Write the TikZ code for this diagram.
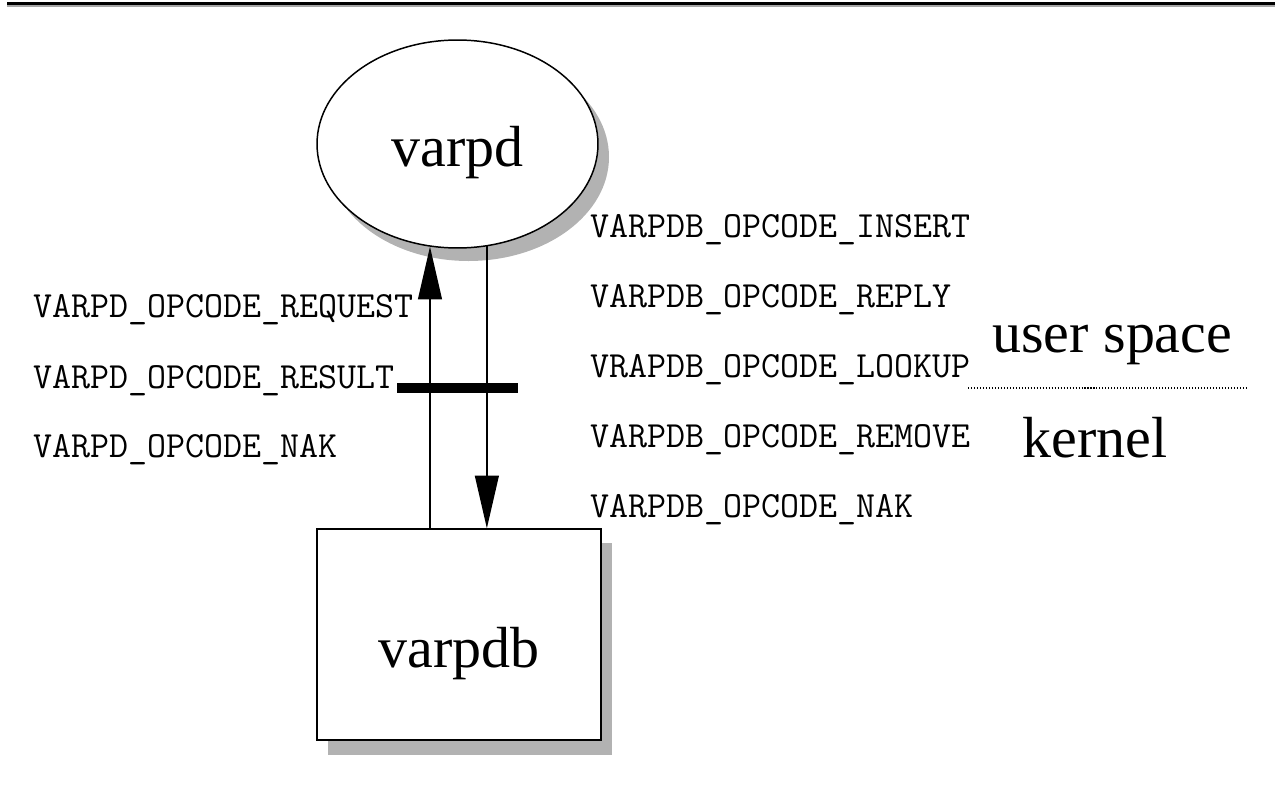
\documentclass[tikz,border=0pt]{standalone}
\usepackage{fontspec}
\setmainfont{Liberation Serif}
\usetikzlibrary{arrows.meta,shapes.geometric,positioning}

\tikzset{
  bigtext/.style={font=\fontsize{33}{40}\selectfont},
  opcode/.style={font=\ttfamily\fontsize{21}{24}\selectfont, anchor=base west, inner sep=0pt},
  shade/.style={fill=gray!60, draw=none},
  msg/.style={line width=0.85pt, -{Triangle[width=13.6pt,length=30pt]}}
}

\begin{document}
\begin{tikzpicture}[x=0.02cm,y=-0.02cm]
\useasboundingbox (0,0) rectangle (1275,808);
% rule at the top
\draw[line width=1.2pt] (7,3.5) -- (1275,3.5);
\draw[gray!70,line width=0.6pt] (7,6) -- (1275,6);
% shadows first
\fill[shade] (468.5,157) ellipse [x radius=140.5, y radius=104];
\fill[shade] (328,543) rectangle (612,755);
% the two parts
\node[ellipse, draw, fill=white, line width=0.85pt, bigtext, minimum width=5.62cm, minimum height=4.16cm,
      text height=1.17cm, text depth=0.25cm] (varpd) at (457.5,144) {varpd};
\node[rectangle, draw, fill=white, line width=0.85pt, bigtext, minimum width=5.68cm, minimum height=4.22cm,
      text height=1.55cm, text depth=0.25cm] (varpdb) at (459,634.5) {varpdb};
% messages between them
\draw[msg] (varpdb.north -| varpd.255) -- (varpd.255);
\draw[msg] (varpd.286) -- (varpdb.north -| varpd.286);
\fill (397,383) rectangle (518,393);
% opcodes sent up
\node[opcode] (req) at (33,317) {VARPD\_OPCODE\_REQUEST};
\node[opcode] (res) at (33,388) {VARPD\_OPCODE\_RESULT};
\node[opcode] (nak) at (33,457) {VARPD\_OPCODE\_NAK};
% opcodes sent down
\node[opcode] (ins) at (590,237) {VARPDB\_OPCODE\_INSERT};
\node[opcode] (rep) at (590,307) {VARPDB\_OPCODE\_REPLY};
\node[opcode] (look) at (590,377) {VRAPDB\_OPCODE\_LOOKUP};
\node[opcode] (rem) at (590,447) {VARPDB\_OPCODE\_REMOVE};
\node[opcode] (dbnak) at (590,517) {VARPDB\_OPCODE\_NAK};
% user/kernel split
\node[bigtext, anchor=base west, inner sep=0pt] (user) at (992,352) {user space};
\node[bigtext, anchor=base west, inner sep=0pt] (kern) at (1022,457) {kernel};
\draw[line width=0.6pt, dash pattern=on 0.6pt off 1.1pt] (968,388) -- (1248,388);
\end{tikzpicture}
\end{document}
